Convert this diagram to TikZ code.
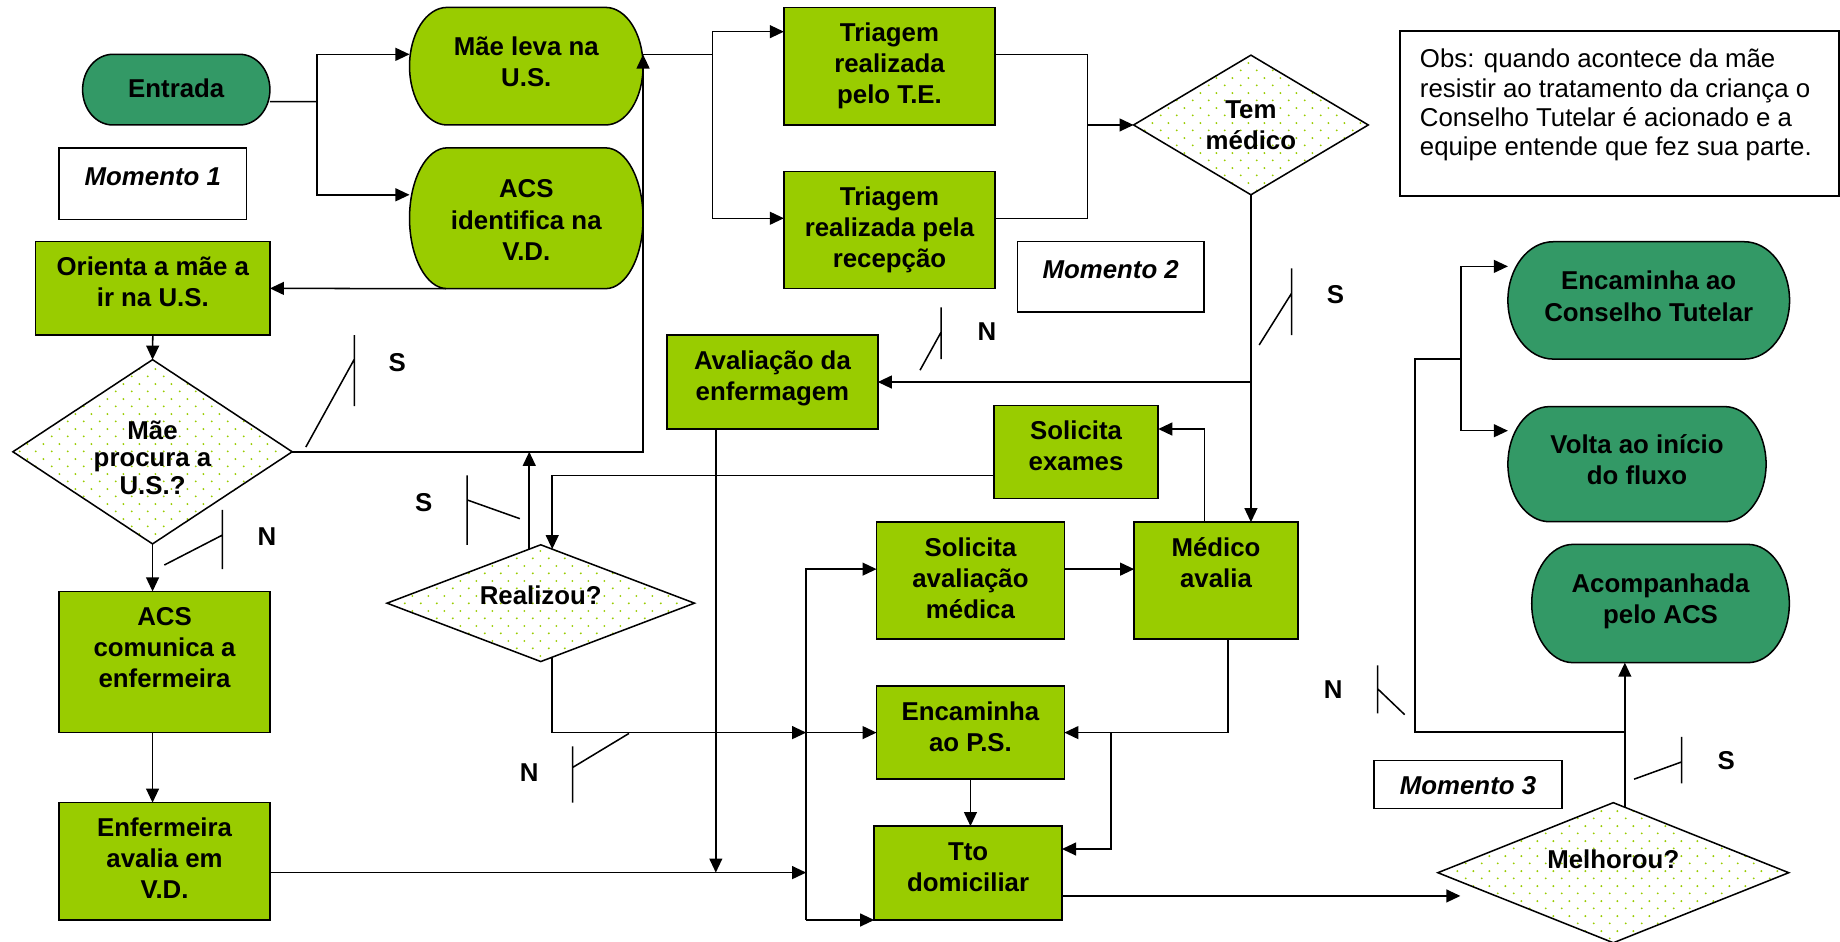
\documentclass[tikz,border=0pt]{standalone}
\usepackage{fontspec}
\setmainfont{Liberation Sans}
\usetikzlibrary{arrows.meta,shapes.geometric,patterns.meta}

\definecolor{boxgreen}{HTML}{99CC00}
\definecolor{termgreen}{HTML}{339966}
\definecolor{dotgreen}{HTML}{99CC00}

\newcommand\flowboxfont{\fontsize{22}{26.5}\selectfont\bfseries}
\newcommand\momentfont{\fontsize{22}{26.5}\selectfont\bfseries\itshape}
\newcommand\obsfont{\fontsize{22}{25}\selectfont}

% sparse staggered dots used inside the decision diamonds
\tikzdeclarepattern{
  name=greendots,
  type=uncolored,
  bounding box={(0pt,0pt) and (13.7pt,13pt)},
  tile size={(13.7pt,13pt)},
  code={
    \pgfpathcircle{\pgfqpoint{3.4pt}{3.25pt}}{0.95pt}
    \pgfpathcircle{\pgfqpoint{10.25pt}{9.75pt}}{0.95pt}
    \pgfusepath{fill}
  }
}

\tikzset{
  boxline/.style={draw=black, line width=1.3pt},
  proc/.style={boxline, fill=boxgreen, rectangle, inner sep=0pt, outer sep=0pt, font=\flowboxfont},
  note/.style={boxline, fill=white, rectangle, inner sep=0pt, outer sep=0pt, font=\momentfont},
  termtext/.style={rectangle, inner sep=0pt, outer sep=0pt, align=center, font=\flowboxfont},
  decision/.style={diamond, boxline, pattern=greendots, pattern color=dotgreen,
    inner sep=0pt, outer sep=0pt, align=center, font=\flowboxfont},
  conn/.style={line width=1.3pt},
  arr/.style={conn, -{Triangle[length=12pt,width=11pt]}},
  yn/.style={font=\flowboxfont, inner sep=0pt},
}

% rectangle with text hanging from its top edge
% #1 style, #2 name, #3 x1, #4 y1, #5 x2, #6 y2, #7 text
\newcommand\procbox[7][proc]{%
  \pgfmathsetlengthmacro\pbw{#5-#3}%
  \pgfmathsetlengthmacro\pbh{#6-#4}%
  \node[#1] (#2) at ({(#3+#5)/2},{(#4+#6)/2})
    {\parbox[c][\pbh][t]{\pbw}{\centering\rule{0pt}{29pt}#7\par}};
}

% flowchart terminator: straight top and bottom, half-ellipse ends
% #1 text lift, #2 name, #3 fill, #4 x1, #5 y1, #6 x2, #7 y2, #8 text
\newcommand\termshape[8][0pt]{%
  \pgfmathsetmacro\trx{0.161*(#6-#4)}%
  \pgfmathsetmacro\try{(#7-#5)/2}%
  \path[boxline, fill=#3] ({#4+\trx},#5) -- ({#6-\trx},#5)
     arc[start angle=-90, end angle=90, x radius=\trx, y radius=\try]
     -- ({#4+\trx},#7)
     arc[start angle=90, end angle=270, x radius=\trx, y radius=\try] -- cycle;
  \node[termtext, minimum width={#6-#4}, minimum height={#7-#5}] (#2)
    at ({(#4+#6)/2},{(#5+#7)/2}) {};
  \node[termtext, yshift=#1] (#2-label) at (#2.center) {#8};
}

\begin{document}
\begin{tikzpicture}[x=1pt,y=-1pt]
\useasboundingbox (0,0) rectangle (1568,802);

% ---------- terminators ----------
\termshape[1pt]{entrada}{termgreen}{70.4}{46.3}{230}{106.5}{Entrada}
\termshape[3.5pt]{mae}{boxgreen}{349}{6.3}{548}{106.5}{Mãe leva na\\U.S.}
\termshape[-1.5pt]{acsid}{boxgreen}{349}{126}{548}{246}{ACS\\identifica na\\V.D.}
\termshape[3.5pt]{encct}{termgreen}{1285}{206}{1525}{306}{Encaminha ao\\Conselho Tutelar}
\termshape[3.5pt]{volta}{termgreen}{1285}{346.5}{1505}{444.6}{Volta ao início\\do fluxo}
\termshape[1.5pt]{acomp}{termgreen}{1305.3}{463.9}{1524.8}{564.7}{Acompanhada\\pelo ACS}

% ---------- process boxes ----------
\procbox{orienta}{30.4}{206}{230}{285.5}{Orienta a mãe a\\ir na U.S.}
\procbox{acscom}{50.5}{504}{230}{624.4}{ACS\\comunica a\\enfermeira}
\procbox{enferm}{50.5}{684}{230}{784}{Enfermeira\\avalia em\\V.D.}
\procbox{trte}{668}{6.3}{848}{106.5}{Triagem\\realizada\\pelo T.E.}
\procbox{trrec}{668}{146}{848}{245.7}{Triagem\\realizada pela\\recepção}
\procbox{aval}{568.5}{285.5}{748}{365.6}{Avaliação da\\enfermagem}
\procbox{solex}{847}{345.7}{987}{425}{Solicita\\exames}
\procbox{solav}{747}{445}{907}{544.6}{Solicita\\avaliação\\médica}
\procbox{medico}{966.5}{445}{1106}{544.6}{Médico\\avalia}
\procbox{encps}{747}{584.6}{907}{664}{Encaminha\\ao P.S.}
\procbox{tto}{745}{704}{905}{784}{Tto\\domiciliar}

% ---------- stage labels ----------
\procbox[note]{mom1}{50.5}{126}{210}{187}{\rule{0pt}{32pt}Momento 1}
\procbox[note]{mom2}{867}{206}{1026}{266}{\rule{0pt}{31pt}Momento 2}
\procbox[note]{mom3}{1171}{648}{1331}{689}{Momento 3}

\node[note, font=\obsfont, anchor=north west] (obs) at (1193,26.5)
  {\parbox[c][140.5pt][t]{374pt}{\leftskip=17pt\rightskip=0pt plus 1fil\rule{0pt}{31.3pt}Obs: quando acontece da mãe\\resistir ao tratamento da criança o\\Conselho Tutelar é acionado e a\\equipe entende que fez sua parte.\par}};

% ---------- decisions ----------
\node[decision, aspect=1.516, minimum width=238pt, minimum height=157pt,
  font=\fontsize{22}{23.5}\selectfont\bfseries] (maeproc) at (130,385)
  {\rule{0pt}{25.5pt}Mãe\\procura a\\U.S.?};
\node[decision, aspect=1.68, minimum width=200pt, minimum height=119pt] (temmed) at (1066,106.5) {Tem\\médico};
\node[decision, aspect=2.63, minimum width=262pt, minimum height=99.5pt] (realizou) at (460.8,514) {\raisebox{6.4pt}[\height][\depth]{Realizou?}};
\node[decision, aspect=2.5, minimum width=299pt, minimum height=119.4pt] (melhorou) at (1374.8,743.7) {\raisebox{11.7pt}[\height][\depth]{Melhorou?}};

% ---------- connectors ----------
\coordinate (jA) at (270,86.6);
\draw[conn] ([yshift=-10.2pt]entrada.east) -- (jA);
\draw[arr] (jA) |- ([yshift=10.1pt]mae.west);
\draw[arr] (jA) |- ([yshift=20pt]acsid.west);

\draw[arr] ([xshift=31pt]acsid.south west) -- (orienta.east);
\draw[arr] (orienta.south) -- (maeproc.north);
\draw[arr] (maeproc.south) -- (maeproc.south |- acscom.north);
\draw[arr] (maeproc.south |- acscom.south) -- (maeproc.south |- enferm.north);

\draw[arr] (maeproc.east) -| ([yshift=10pt]mae.east);
\coordinate (jB) at (607,46.4);
\draw[conn] ([yshift=10pt]mae.east) -- (jB);
\draw[arr] (jB) |- ([yshift=29.4pt]trte.west);
\draw[arr] (jB) |- ([yshift=9.85pt]trrec.west);

\coordinate (jC) at (926.7,106.5);
\draw[conn] ([yshift=10pt]trte.east) -| (jC);
\draw[conn] ([yshift=9.85pt]trrec.east) -| (jC);
\draw[arr] (jC) -- (temmed.west);

\draw[arr] (temmed.south) -- (temmed.south |- medico.north);
\draw[arr] (temmed.south |- aval.east) -- (aval.east);

\coordinate (mdUp) at ([xshift=-9.85pt]medico.north);
\draw[arr] (mdUp) |- ([yshift=19.75pt]solex.east);

\coordinate (sxOut) at ([yshift=-20pt]solex.west);
\draw[arr] (sxOut) -| (realizou.78);

\coordinate (rzUp) at (realizou.102);
\draw[arr] (rzUp) -- (rzUp |- maeproc.east);

\coordinate (busx) at (687,0);
\draw[arr] (realizou.282) |- (busx |- encps.west);
\draw[arr] (busx |- encps.west) -- (encps.west);
\draw[arr] (busx |- tto.south west) |- ([yshift=9.8pt]solav.west);
\draw[arr] (busx |- tto.south west) -- (tto.south west);

\coordinate (enfOut) at ([yshift=-9.6pt]enferm.east);
\draw[arr] (enfOut) -- (busx |- enfOut);
\coordinate (avOut) at ([xshift=-48.25pt]aval.south);
\draw[arr] (avOut) -- (avOut |- enfOut);

\draw[arr] ([yshift=9.8pt]solav.east) -- ([yshift=9.8pt]medico.west);

\coordinate (mdDown) at ([xshift=10.35pt]medico.south);
\draw[arr] (mdDown) |- (encps.east);
\coordinate (jF) at ([xshift=39.6pt]encps.east);
\draw[arr] (jF) |- ([yshift=20.5pt]tto.east);
\draw[arr] (encps.south) -- (encps.south |- tto.north);

\coordinate (ttOut) at ([yshift=-19.5pt]tto.east);
\coordinate (melIn) at ([xshift=19.2pt]melhorou.west);
\draw[arr] (ttOut) -- (ttOut -| melIn);

\coordinate (mlUp) at (melhorou.80);
\draw[arr] (mlUp) -- (mlUp |- acomp.south);
\coordinate (yG) at (0,624);
\coordinate (jG) at (mlUp |- yG);
\coordinate (jH) at (1206,306);
\coordinate (jI) at (1245,306);
\draw[conn] (jG) -| (jH) -- (jI);
\draw[arr] (jI) |- ([yshift=29pt]encct.west);
\draw[arr] (jI) |- ([yshift=28.5pt]volta.west);

% ---------- yes / no switch marks ----------
\draw[conn] (302,285.5) -- (302,346) (302,306) -- (260.6,381);
\node[yn] (s1) at (338.6,308.7) {S};
\draw[conn] (189.5,434.6) -- (189.5,485) (189.5,456) -- (140,481.5);
\node[yn] (n1) at (227.5,457) {N};
\draw[conn] (1100.6,228.7) -- (1100.6,285.5) (1100.6,250) -- (1073,294);
\node[yn] (s2) at (1138,251) {S};
\draw[conn] (802,262) -- (802,306) (802,283) -- (784,315.5);
\node[yn] (n2) at (841,283) {N};
\draw[conn] (398,405) -- (398,464.4) (398,426) -- (443,442);
\node[yn] (s3) at (361,428) {S};
\draw[conn] (488,636) -- (488,684) (488,654) -- (536,625);
\node[yn] (n3) at (451,658) {N};
\draw[conn] (1174,567) -- (1174,608) (1174,587) -- (1197,609);
\node[yn] (n4) at (1136,588) {N};
\draw[conn] (1433,628) -- (1433,667.5) (1433,649.3) -- (1392.5,664);
\node[yn] (s4) at (1471,648.5) {S};

\end{tikzpicture}
\end{document}
